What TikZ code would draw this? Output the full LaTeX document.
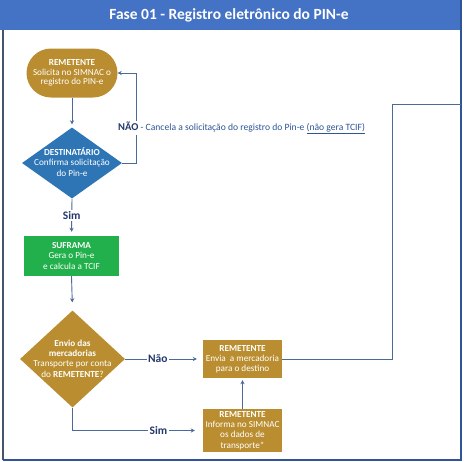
\documentclass[tikz,border=0pt]{standalone}
\usepackage{fontspec}
\setmainfont{Carlito}
\usetikzlibrary{shapes.geometric,arrows.meta}
\definecolor{hdr}{HTML}{4472C4}
\definecolor{framec}{HTML}{2F5597}
\definecolor{framel}{HTML}{44546A}
\definecolor{gold}{RGB}{186,142,48}
\definecolor{dblue}{HTML}{2E75B6}
\definecolor{grn}{RGB}{34,176,76}
\definecolor{navy}{RGB}{36,56,108}
\definecolor{lnavy}{HTML}{2F5597}
\definecolor{connc}{RGB}{74,106,156}
\begin{document}
\begin{tikzpicture}[x=1pt,y=-1pt,
  txt/.style={text=white, align=center, font=\fontsize{9.2}{10.2}\selectfont, inner sep=0pt},
  boxnode/.style={txt, draw=none, minimum width=79pt, minimum height=38pt},
  dianode/.style={shape=diamond, draw=none, inner sep=0pt},
  conn/.style={draw=connc, line width=0.9pt, -{Stealth[length=4pt,width=4.2pt]}},
  plainline/.style={draw=connc, line width=0.9pt},
  lbl/.style={text=navy, font=\fontsize{11.5}{13}\bfseries, fill=white, inner sep=1.5pt}
]
\useasboundingbox (0,0) rectangle (466,461);
\fill[white] (0,0) rectangle (466,461);
% header
\fill[hdr] (0,0) rectangle (461,30);
\node[text=white, font=\fontsize{15.5}{17}\bfseries\selectfont] (title) at (229,15.5) {Fase 01 - Registro eletrônico do PIN-e};
% frame
\draw[framel, line width=1.2pt] (3,30) -- (3,460);
\draw[framec, line width=1.5pt] (3,460) -- (461,460) -- (461,0);

% nodes
\node[txt, font=\fontsize{9.2}{9.4}\selectfont, fill=gold, minimum width=91pt, minimum height=49pt, rounded corners=24.5pt] (rem1) at (72,73)
  {\textbf{REMETENTE}\\Solicita no SIMNAC o\\registro do PIN-e};
\node[dianode, fill=dblue, minimum width=100pt, minimum height=71pt] (dest) at (72,163) {};
\node[txt] (destt) at (72,162) {\textbf{DESTINATÁRIO}\\Confirma solicitação\\do Pin-e};
\node[boxnode, fill=grn, minimum width=95pt, minimum height=40pt] (suf) at (71.5,256)
  {\textbf{SUFRAMA}\\Gera o Pin-e\\e calcula a TCIF};
\node[dianode, fill=gold, minimum width=105pt, minimum height=97pt] (envio) at (72.5,359) {};
\node[txt, font=\fontsize{9.2}{10.4}\selectfont] (enviot) at (72.5,358.5)
  {\textbf{Envio das}\\\textbf{mercadorias}\\Transporte por conta\\do \textbf{REMETENTE}?};
\node[boxnode, fill=gold] (envia) at (242.5,359) {\textbf{REMETENTE}\\Envia\ \ a mercadoria\\para o destino};
\node[boxnode, fill=gold, minimum height=43pt] (inf) at (242.5,430.5)
  {\textbf{REMETENTE}\\Informa no SIMNAC\\os dados de\\transporte*};
\coordinate (exitpt) at (461,104);

% connectors
\draw[conn, shorten >=3pt] (rem1.south) -- (dest.north);
\draw[conn] (dest.east) -- ++(14,0) |- (rem1.east);
\node[anchor=west, fill=white, inner sep=1pt, text=lnavy, font=\fontsize{9.6}{11}\selectfont] (nao) at (117,128)
  {{\fontsize{10.5}{12}\bfseries\color{navy}NÃO} - Cancela a solicitação do registro do Pin-e \underline{(não gera TCIF)}};
\draw[conn, shorten >=4pt] (dest.south) -- node[lbl, pos=0.45] (sim1) {Sim} (suf.north);
\draw[conn, shorten >=8pt] (suf.south) -- (envio.north);
\draw[conn, shorten >=6pt] (envio.east) -- node[lbl, pos=0.42] (nao2) {Não} (envia.west);
\draw[conn, shorten >=8pt] (envio.south) |- node[lbl, pos=0.83] (sim2) {Sim} (inf.west);
\draw[conn, shorten >=2pt] (inf.north) -- (envia.south);
\draw[plainline] (envia.east) -- ++(110,0) |- (exitpt);
\end{tikzpicture}
\end{document}
